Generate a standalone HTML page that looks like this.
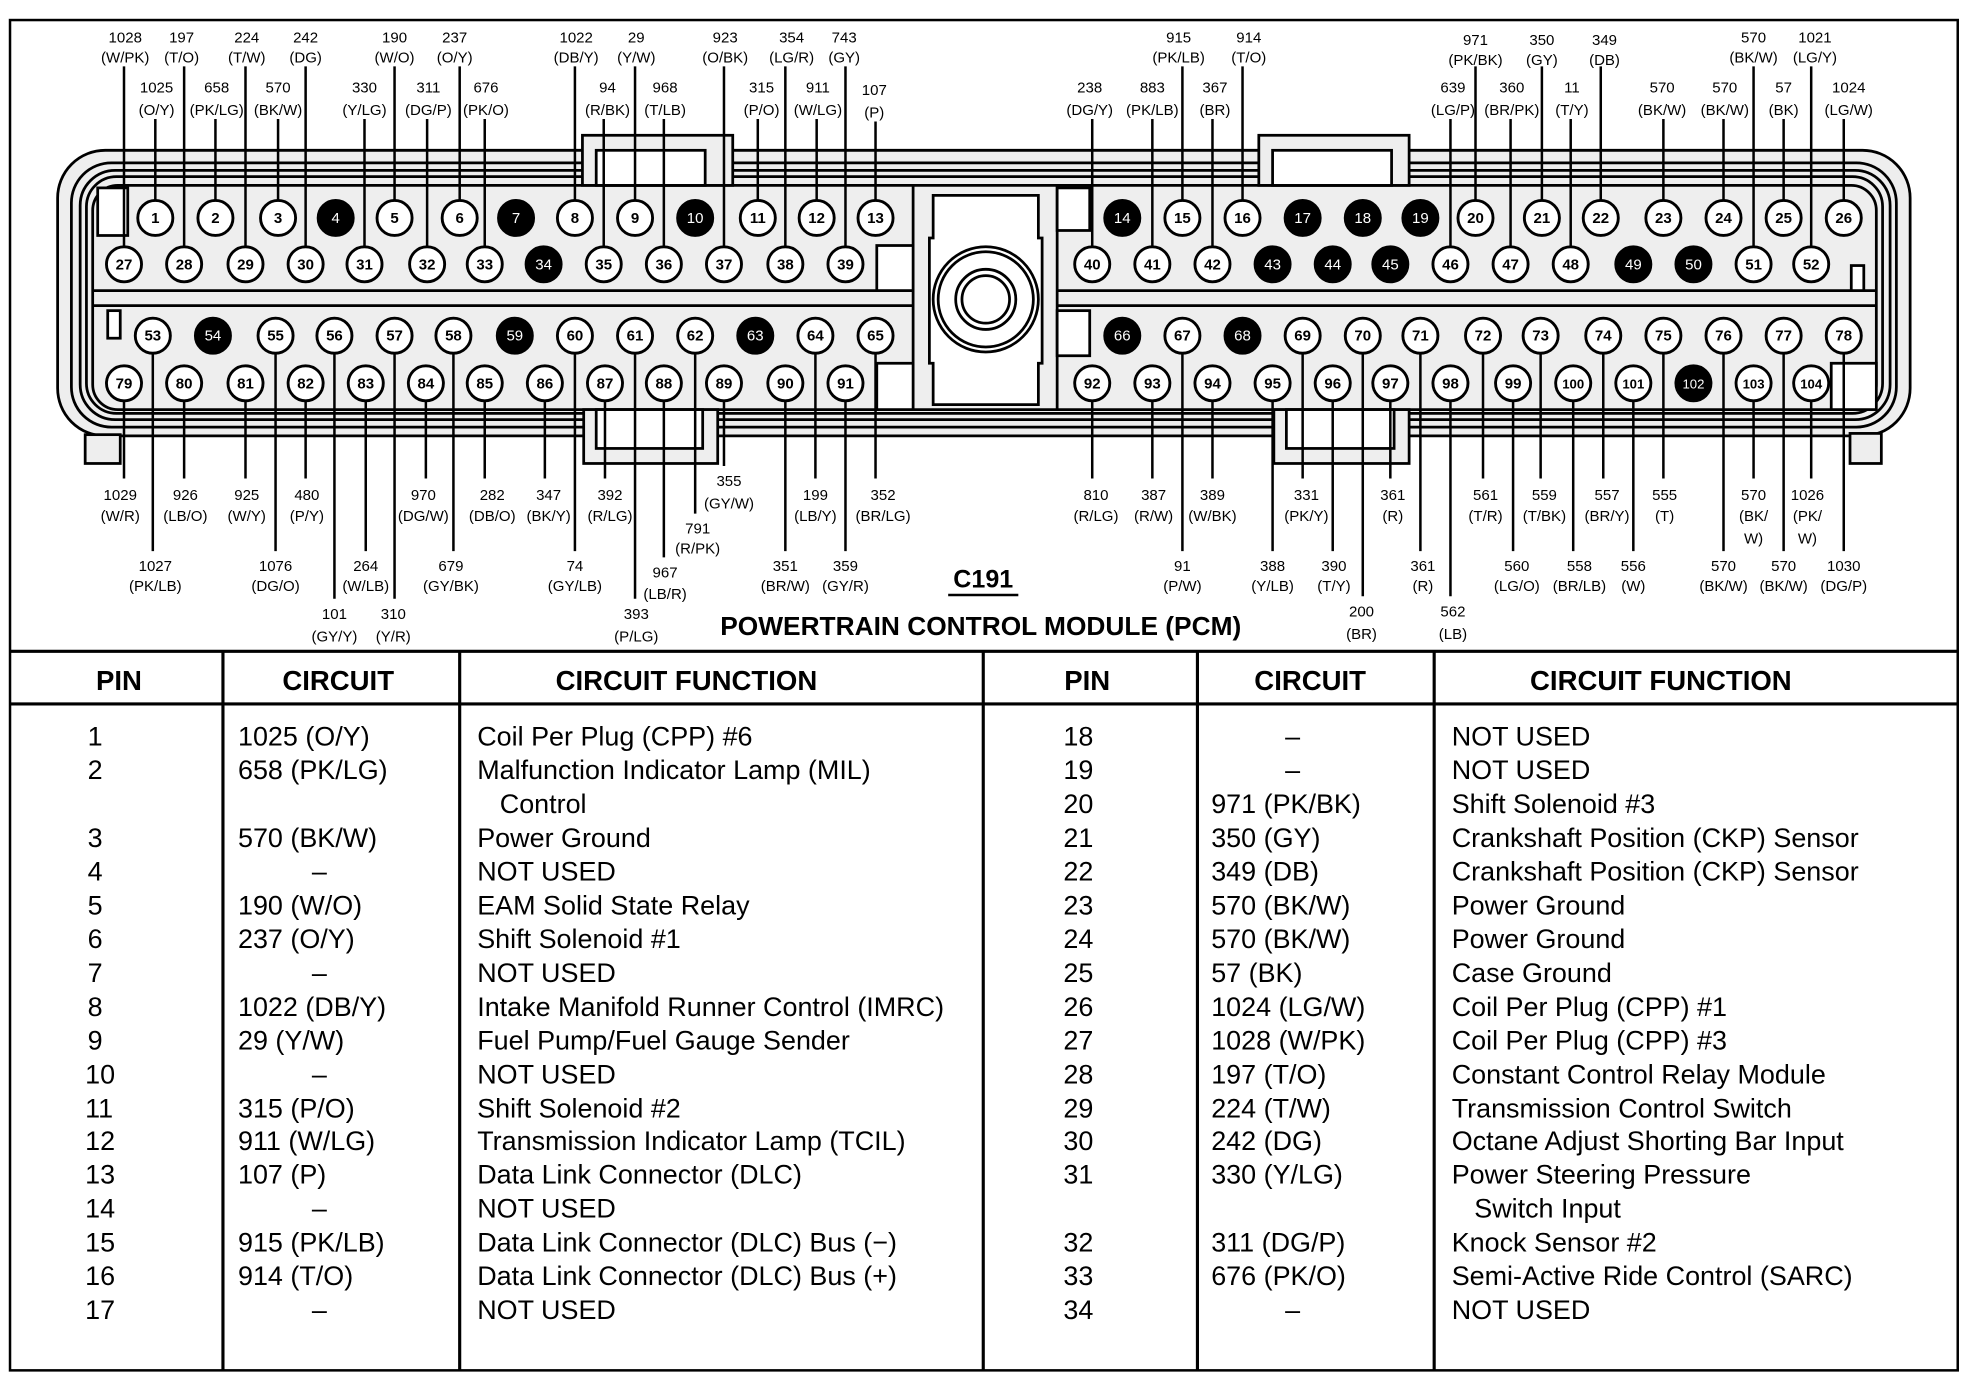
<!DOCTYPE html>
<html><head><meta charset="utf-8"><style>
html,body{margin:0;padding:0;background:#fff;}
svg{display:block;}
.l{font-family:"Liberation Sans",sans-serif;font-size:12px;text-anchor:middle;fill:#000;}
.p{font-family:"Liberation Sans",sans-serif;font-size:12px;font-weight:bold;text-anchor:middle;fill:#000;}
.pb{font-family:"Liberation Sans",sans-serif;font-size:12px;text-anchor:middle;fill:#fff;}
.t{font-family:"Liberation Sans",sans-serif;font-size:21.5px;fill:#000;}
.h{font-family:"Liberation Sans",sans-serif;font-size:22px;font-weight:bold;fill:#000;text-anchor:middle;}
</style></head><body>
<svg width="1964" height="1376" viewBox="0 0 1568 1098.5" preserveAspectRatio="none" xmlns="http://www.w3.org/2000/svg">
<rect x="8" y="16" width="1555" height="1078" fill="#fff" stroke="#000" stroke-width="2"/>
<g fill="none" stroke="#000" stroke-width="2.2">
<rect x="46" y="120" width="1479" height="228" rx="38" fill="#eeeeee"/>
<rect x="57" y="130" width="1457" height="211" rx="32"/>
<rect x="64" y="136" width="1445" height="199" rx="28"/>
<rect x="69" y="141" width="1434" height="189" rx="24"/>
<rect x="74" y="148" width="1424" height="179" rx="20"/>
<line x1="74" y1="232" x2="729" y2="232"/>
<line x1="74" y1="244" x2="729" y2="244"/>
<line x1="844" y1="232" x2="1498" y2="232"/>
<line x1="844" y1="244" x2="1498" y2="244"/>
<line x1="729" y1="148" x2="729" y2="327"/>
<line x1="844" y1="148" x2="844" y2="327"/>
<rect x="68" y="347" width="28" height="23" fill="#eee"/>
<rect x="1477" y="346" width="25" height="24" fill="#eee"/>
<rect x="465" y="108" width="120" height="40" fill="#eee"/>
<rect x="476" y="120" width="87" height="28" fill="#fff"/>
<rect x="1005" y="108" width="120" height="40" fill="#eee"/>
<rect x="1016" y="120" width="95" height="28" fill="#fff"/>
<rect x="466" y="327" width="107" height="43" fill="#eee"/>
<rect x="476" y="327" width="85" height="31" fill="#fff"/>
<rect x="1017" y="327" width="108" height="43" fill="#eee"/>
<rect x="1027" y="327" width="86" height="31" fill="#fff"/>
<path d="M745 156 H829 V190 H832 V290 H829 V323 H745 V290 H742 V190 H745 Z" fill="#fff"/>
<circle cx="787" cy="239" r="42"/><circle cx="787" cy="239" r="38"/>
<circle cx="787" cy="239" r="24"/><circle cx="787" cy="239" r="19"/>
<rect x="78" y="150" width="24" height="38" fill="#fff"/>
<rect x="86" y="248" width="10" height="22" fill="#fff"/>
<rect x="700" y="196" width="29" height="36" fill="#fff"/>
<rect x="700" y="290" width="29" height="37" fill="#fff"/>
<rect x="844" y="150" width="26" height="34" fill="#fff"/>
<rect x="844" y="248" width="26" height="36" fill="#fff"/>
<rect x="1478" y="212" width="10" height="20" fill="#fff"/>
<rect x="1462" y="290" width="36" height="37" fill="#fff"/>
</g>
<g stroke="#000" stroke-width="2">
<line x1="99" y1="53" x2="99" y2="197"/><line x1="147" y1="53" x2="147" y2="197"/><line x1="196" y1="53" x2="196" y2="197"/><line x1="244" y1="53" x2="244" y2="197"/>
<line x1="315" y1="53" x2="315" y2="160"/><line x1="367" y1="53" x2="367" y2="160"/><line x1="459" y1="53" x2="459" y2="160"/><line x1="507" y1="53" x2="507" y2="160"/>
<line x1="578" y1="53" x2="578" y2="197"/><line x1="627" y1="53" x2="627" y2="197"/><line x1="675" y1="53" x2="675" y2="197"/>
<line x1="944" y1="53" x2="944" y2="160"/><line x1="992" y1="53" x2="992" y2="160"/><line x1="1178" y1="53" x2="1178" y2="160"/><line x1="1231" y1="53" x2="1231" y2="160"/><line x1="1278" y1="53" x2="1278" y2="160"/>
<line x1="1400" y1="53" x2="1400" y2="197"/><line x1="1446" y1="53" x2="1446" y2="197"/>
<line x1="124" y1="95" x2="124" y2="160"/><line x1="172" y1="95" x2="172" y2="160"/><line x1="222" y1="95" x2="222" y2="160"/>
<line x1="291" y1="95" x2="291" y2="197"/><line x1="341" y1="95" x2="341" y2="197"/><line x1="387" y1="95" x2="387" y2="197"/>
<line x1="482" y1="95" x2="482" y2="197"/><line x1="530" y1="95" x2="530" y2="197"/>
<line x1="605" y1="95" x2="605" y2="160"/><line x1="652" y1="95" x2="652" y2="160"/><line x1="699" y1="97" x2="699" y2="160"/>
<line x1="872" y1="95" x2="872" y2="197"/><line x1="920" y1="95" x2="920" y2="197"/><line x1="968" y1="95" x2="968" y2="197"/>
<line x1="1158" y1="95" x2="1158" y2="197"/><line x1="1206" y1="95" x2="1206" y2="197"/><line x1="1254" y1="95" x2="1254" y2="197"/>
<line x1="1328" y1="95" x2="1328" y2="160"/><line x1="1376" y1="95" x2="1376" y2="160"/><line x1="1424" y1="95" x2="1424" y2="160"/><line x1="1472" y1="95" x2="1472" y2="160"/>
<line x1="99" y1="320" x2="99" y2="382"/><line x1="147" y1="320" x2="147" y2="382"/><line x1="196" y1="320" x2="196" y2="382"/><line x1="244" y1="320" x2="244" y2="382"/>
<line x1="340" y1="320" x2="340" y2="382"/><line x1="387" y1="320" x2="387" y2="382"/><line x1="435" y1="320" x2="435" y2="382"/><line x1="483" y1="320" x2="483" y2="382"/>
<line x1="578" y1="320" x2="578" y2="372"/><line x1="651" y1="282" x2="651" y2="382"/><line x1="699" y1="282" x2="699" y2="382"/>
<line x1="555" y1="282" x2="555" y2="410"/><line x1="530" y1="320" x2="530" y2="445"/><line x1="507" y1="282" x2="507" y2="478"/>
<line x1="122" y1="282" x2="122" y2="440"/><line x1="220" y1="282" x2="220" y2="440"/><line x1="292" y1="320" x2="292" y2="440"/><line x1="362" y1="282" x2="362" y2="440"/><line x1="459" y1="282" x2="459" y2="440"/>
<line x1="267" y1="282" x2="267" y2="478"/><line x1="315" y1="282" x2="315" y2="478"/>
<line x1="627" y1="320" x2="627" y2="440"/><line x1="675" y1="320" x2="675" y2="440"/>
<line x1="872" y1="320" x2="872" y2="382"/><line x1="920" y1="320" x2="920" y2="382"/><line x1="968" y1="320" x2="968" y2="382"/>
<line x1="1040" y1="282" x2="1040" y2="382"/><line x1="1110" y1="320" x2="1110" y2="382"/>
<line x1="1184" y1="282" x2="1184" y2="382"/><line x1="1230" y1="282" x2="1230" y2="382"/><line x1="1280" y1="282" x2="1280" y2="382"/><line x1="1328" y1="282" x2="1328" y2="382"/>
<line x1="1400" y1="320" x2="1400" y2="382"/><line x1="1446" y1="320" x2="1446" y2="382"/>
<line x1="944" y1="282" x2="944" y2="440"/><line x1="1016" y1="320" x2="1016" y2="440"/><line x1="1064" y1="320" x2="1064" y2="440"/><line x1="1134" y1="282" x2="1134" y2="440"/>
<line x1="1208" y1="320" x2="1208" y2="440"/><line x1="1256" y1="320" x2="1256" y2="440"/><line x1="1304" y1="320" x2="1304" y2="440"/>
<line x1="1376" y1="282" x2="1376" y2="440"/><line x1="1424" y1="282" x2="1424" y2="440"/><line x1="1472" y1="282" x2="1472" y2="440"/>
<line x1="1088" y1="282" x2="1088" y2="476"/><line x1="1158" y1="320" x2="1158" y2="476"/>
</g>
<g stroke="#000" stroke-width="2.3" fill="#fff">
<circle cx="124" cy="174" r="14"/><circle cx="172" cy="174" r="14"/><circle cx="222" cy="174" r="14"/><circle cx="268" cy="174" r="14" fill="#000"/><circle cx="315" cy="174" r="14"/><circle cx="367" cy="174" r="14"/><circle cx="412" cy="174" r="14" fill="#000"/><circle cx="459" cy="174" r="14"/><circle cx="507" cy="174" r="14"/><circle cx="555" cy="174" r="14" fill="#000"/><circle cx="605" cy="174" r="14"/><circle cx="652" cy="174" r="14"/><circle cx="699" cy="174" r="14"/>
<circle cx="99" cy="211" r="14"/><circle cx="147" cy="211" r="14"/><circle cx="196" cy="211" r="14"/><circle cx="244" cy="211" r="14"/><circle cx="291" cy="211" r="14"/><circle cx="341" cy="211" r="14"/><circle cx="387" cy="211" r="14"/><circle cx="434" cy="211" r="14" fill="#000"/><circle cx="482" cy="211" r="14"/><circle cx="530" cy="211" r="14"/><circle cx="578" cy="211" r="14"/><circle cx="627" cy="211" r="14"/><circle cx="675" cy="211" r="14"/>
<circle cx="896" cy="174" r="14" fill="#000"/><circle cx="944" cy="174" r="14"/><circle cx="992" cy="174" r="14"/><circle cx="1040" cy="174" r="14" fill="#000"/><circle cx="1088" cy="174" r="14" fill="#000"/><circle cx="1134" cy="174" r="14" fill="#000"/><circle cx="1178" cy="174" r="14"/><circle cx="1231" cy="174" r="14"/><circle cx="1278" cy="174" r="14"/><circle cx="1328" cy="174" r="14"/><circle cx="1376" cy="174" r="14"/><circle cx="1424" cy="174" r="14"/><circle cx="1472" cy="174" r="14"/>
<circle cx="872" cy="211" r="14"/><circle cx="920" cy="211" r="14"/><circle cx="968" cy="211" r="14"/><circle cx="1016" cy="211" r="14" fill="#000"/><circle cx="1064" cy="211" r="14" fill="#000"/><circle cx="1110" cy="211" r="14" fill="#000"/><circle cx="1158" cy="211" r="14"/><circle cx="1206" cy="211" r="14"/><circle cx="1254" cy="211" r="14"/><circle cx="1304" cy="211" r="14" fill="#000"/><circle cx="1352" cy="211" r="14" fill="#000"/><circle cx="1400" cy="211" r="14"/><circle cx="1446" cy="211" r="14"/>
<circle cx="122" cy="268" r="14"/><circle cx="170" cy="268" r="14" fill="#000"/><circle cx="220" cy="268" r="14"/><circle cx="267" cy="268" r="14"/><circle cx="315" cy="268" r="14"/><circle cx="362" cy="268" r="14"/><circle cx="411" cy="268" r="14" fill="#000"/><circle cx="459" cy="268" r="14"/><circle cx="507" cy="268" r="14"/><circle cx="555" cy="268" r="14"/><circle cx="603" cy="268" r="14" fill="#000"/><circle cx="651" cy="268" r="14"/><circle cx="699" cy="268" r="14"/>
<circle cx="99" cy="306" r="14"/><circle cx="147" cy="306" r="14"/><circle cx="196" cy="306" r="14"/><circle cx="244" cy="306" r="14"/><circle cx="292" cy="306" r="14"/><circle cx="340" cy="306" r="14"/><circle cx="387" cy="306" r="14"/><circle cx="435" cy="306" r="14"/><circle cx="483" cy="306" r="14"/><circle cx="530" cy="306" r="14"/><circle cx="578" cy="306" r="14"/><circle cx="627" cy="306" r="14"/><circle cx="675" cy="306" r="14"/>
<circle cx="896" cy="268" r="14" fill="#000"/><circle cx="944" cy="268" r="14"/><circle cx="992" cy="268" r="14" fill="#000"/><circle cx="1040" cy="268" r="14"/><circle cx="1088" cy="268" r="14"/><circle cx="1134" cy="268" r="14"/><circle cx="1184" cy="268" r="14"/><circle cx="1230" cy="268" r="14"/><circle cx="1280" cy="268" r="14"/><circle cx="1328" cy="268" r="14"/><circle cx="1376" cy="268" r="14"/><circle cx="1424" cy="268" r="14"/><circle cx="1472" cy="268" r="14"/>
<circle cx="872" cy="306" r="14"/><circle cx="920" cy="306" r="14"/><circle cx="968" cy="306" r="14"/><circle cx="1016" cy="306" r="14"/><circle cx="1064" cy="306" r="14"/><circle cx="1110" cy="306" r="14"/><circle cx="1158" cy="306" r="14"/><circle cx="1208" cy="306" r="14"/><circle cx="1256" cy="306" r="14"/><circle cx="1304" cy="306" r="14"/><circle cx="1352" cy="306" r="14" fill="#000"/><circle cx="1400" cy="306" r="14"/><circle cx="1446" cy="306" r="14"/>
</g>
<g class="p">
<text x="124" y="178">1</text><text x="172" y="178">2</text><text x="222" y="178">3</text><text x="315" y="178">5</text><text x="367" y="178">6</text><text x="459" y="178">8</text><text x="507" y="178">9</text><text x="605" y="178">11</text><text x="652" y="178">12</text><text x="699" y="178">13</text>
<text x="99" y="215">27</text><text x="147" y="215">28</text><text x="196" y="215">29</text><text x="244" y="215">30</text><text x="291" y="215">31</text><text x="341" y="215">32</text><text x="387" y="215">33</text><text x="482" y="215">35</text><text x="530" y="215">36</text><text x="578" y="215">37</text><text x="627" y="215">38</text><text x="675" y="215">39</text>
<text x="944" y="178">15</text><text x="992" y="178">16</text><text x="1178" y="178">20</text><text x="1231" y="178">21</text><text x="1278" y="178">22</text><text x="1328" y="178">23</text><text x="1376" y="178">24</text><text x="1424" y="178">25</text><text x="1472" y="178">26</text>
<text x="872" y="215">40</text><text x="920" y="215">41</text><text x="968" y="215">42</text><text x="1158" y="215">46</text><text x="1206" y="215">47</text><text x="1254" y="215">48</text><text x="1400" y="215">51</text><text x="1446" y="215">52</text>
<text x="122" y="272">53</text><text x="220" y="272">55</text><text x="267" y="272">56</text><text x="315" y="272">57</text><text x="362" y="272">58</text><text x="459" y="272">60</text><text x="507" y="272">61</text><text x="555" y="272">62</text><text x="651" y="272">64</text><text x="699" y="272">65</text>
<text x="99" y="310">79</text><text x="147" y="310">80</text><text x="196" y="310">81</text><text x="244" y="310">82</text><text x="292" y="310">83</text><text x="340" y="310">84</text><text x="387" y="310">85</text><text x="435" y="310">86</text><text x="483" y="310">87</text><text x="530" y="310">88</text><text x="578" y="310">89</text><text x="627" y="310">90</text><text x="675" y="310">91</text>
<text x="944" y="272">67</text><text x="1040" y="272">69</text><text x="1088" y="272">70</text><text x="1134" y="272">71</text><text x="1184" y="272">72</text><text x="1230" y="272">73</text><text x="1280" y="272">74</text><text x="1328" y="272">75</text><text x="1376" y="272">76</text><text x="1424" y="272">77</text><text x="1472" y="272">78</text>
<text x="872" y="310">92</text><text x="920" y="310">93</text><text x="968" y="310">94</text><text x="1016" y="310">95</text><text x="1064" y="310">96</text><text x="1110" y="310">97</text><text x="1158" y="310">98</text><text x="1208" y="310">99</text><text x="1256" y="310" font-size="10.5">100</text><text x="1304" y="310" font-size="10.5">101</text><text x="1400" y="310" font-size="10.5">103</text><text x="1446" y="310" font-size="10.5">104</text>
</g>
<g class="pb">
<text x="268" y="178">4</text><text x="412" y="178">7</text><text x="555" y="178">10</text><text x="434" y="215">34</text>
<text x="896" y="178">14</text><text x="1040" y="178">17</text><text x="1088" y="178">18</text><text x="1134" y="178">19</text>
<text x="1016" y="215">43</text><text x="1064" y="215">44</text><text x="1110" y="215">45</text><text x="1304" y="215">49</text><text x="1352" y="215">50</text>
<text x="170" y="272">54</text><text x="411" y="272">59</text><text x="603" y="272">63</text><text x="896" y="272">66</text><text x="992" y="272">68</text><text x="1352" y="310" font-size="10.5">102</text>
</g>
<g class="l">
<text x="100" y="34">1028</text><text x="100" y="50">(W/PK)</text>
<text x="145" y="34">197</text><text x="145" y="50">(T/O)</text>
<text x="197" y="34">224</text><text x="197" y="50">(T/W)</text>
<text x="244" y="34">242</text><text x="244" y="50">(DG)</text>
<text x="315" y="34">190</text><text x="315" y="50">(W/O)</text>
<text x="363" y="34">237</text><text x="363" y="50">(O/Y)</text>
<text x="460" y="34">1022</text><text x="460" y="50">(DB/Y)</text>
<text x="508" y="34">29</text><text x="508" y="50">(Y/W)</text>
<text x="579" y="34">923</text><text x="579" y="50">(O/BK)</text>
<text x="632" y="34">354</text><text x="632" y="50">(LG/R)</text>
<text x="674" y="34">743</text><text x="674" y="50">(GY)</text>
<text x="941" y="34">915</text><text x="941" y="50">(PK/LB)</text>
<text x="997" y="34">914</text><text x="997" y="50">(T/O)</text>
<text x="1178" y="36">971</text><text x="1178" y="52">(PK/BK)</text>
<text x="1231" y="36">350</text><text x="1231" y="52">(GY)</text>
<text x="1281" y="36">349</text><text x="1281" y="52">(DB)</text>
<text x="1400" y="34">570</text><text x="1400" y="50">(BK/W)</text>
<text x="1449" y="34">1021</text><text x="1449" y="50">(LG/Y)</text>
<text x="125" y="74">1025</text><text x="125" y="92">(O/Y)</text>
<text x="173" y="74">658</text><text x="173" y="92">(PK/LG)</text>
<text x="222" y="74">570</text><text x="222" y="92">(BK/W)</text>
<text x="291" y="74">330</text><text x="291" y="92">(Y/LG)</text>
<text x="342" y="74">311</text><text x="342" y="92">(DG/P)</text>
<text x="388" y="74">676</text><text x="388" y="92">(PK/O)</text>
<text x="485" y="74">94</text><text x="485" y="92">(R/BK)</text>
<text x="531" y="74">968</text><text x="531" y="92">(T/LB)</text>
<text x="608" y="74">315</text><text x="608" y="92">(P/O)</text>
<text x="653" y="74">911</text><text x="653" y="92">(W/LG)</text>
<text x="698" y="76">107</text><text x="698" y="94">(P)</text>
<text x="870" y="74">238</text><text x="870" y="92">(DG/Y)</text>
<text x="920" y="74">883</text><text x="920" y="92">(PK/LB)</text>
<text x="970" y="74">367</text><text x="970" y="92">(BR)</text>
<text x="1160" y="74">639</text><text x="1160" y="92">(LG/P)</text>
<text x="1207" y="74">360</text><text x="1207" y="92">(BR/PK)</text>
<text x="1255" y="74">11</text><text x="1255" y="92">(T/Y)</text>
<text x="1327" y="74">570</text><text x="1327" y="92">(BK/W)</text>
<text x="1377" y="74">570</text><text x="1377" y="92">(BK/W)</text>
<text x="1424" y="74">57</text><text x="1424" y="92">(BK)</text>
<text x="1476" y="74">1024</text><text x="1476" y="92">(LG/W)</text>
<text x="96" y="399">1029</text><text x="96" y="416">(W/R)</text>
<text x="148" y="399">926</text><text x="148" y="416">(LB/O)</text>
<text x="197" y="399">925</text><text x="197" y="416">(W/Y)</text>
<text x="245" y="399">480</text><text x="245" y="416">(P/Y)</text>
<text x="338" y="399">970</text><text x="338" y="416">(DG/W)</text>
<text x="393" y="399">282</text><text x="393" y="416">(DB/O)</text>
<text x="438" y="399">347</text><text x="438" y="416">(BK/Y)</text>
<text x="487" y="399">392</text><text x="487" y="416">(R/LG)</text>
<text x="582" y="388">355</text><text x="582" y="406">(GY/W)</text>
<text x="651" y="399">199</text><text x="651" y="416">(LB/Y)</text>
<text x="705" y="399">352</text><text x="705" y="416">(BR/LG)</text>
<text x="557" y="426">791</text><text x="557" y="442">(R/PK)</text>
<text x="531" y="461">967</text><text x="531" y="478">(LB/R)</text>
<text x="508" y="494">393</text><text x="508" y="512">(P/LG)</text>
<text x="124" y="456">1027</text><text x="124" y="472">(PK/LB)</text>
<text x="220" y="456">1076</text><text x="220" y="472">(DG/O)</text>
<text x="292" y="456">264</text><text x="292" y="472">(W/LB)</text>
<text x="360" y="456">679</text><text x="360" y="472">(GY/BK)</text>
<text x="459" y="456">74</text><text x="459" y="472">(GY/LB)</text>
<text x="267" y="494">101</text><text x="267" y="512">(GY/Y)</text>
<text x="314" y="494">310</text><text x="314" y="512">(Y/R)</text>
<text x="627" y="456">351</text><text x="627" y="472">(BR/W)</text>
<text x="675" y="456">359</text><text x="675" y="472">(GY/R)</text>
<text x="875" y="399">810</text><text x="875" y="416">(R/LG)</text>
<text x="921" y="399">387</text><text x="921" y="416">(R/W)</text>
<text x="968" y="399">389</text><text x="968" y="416">(W/BK)</text>
<text x="1043" y="399">331</text><text x="1043" y="416">(PK/Y)</text>
<text x="1112" y="399">361</text><text x="1112" y="416">(R)</text>
<text x="1186" y="399">561</text><text x="1186" y="416">(T/R)</text>
<text x="1233" y="399">559</text><text x="1233" y="416">(T/BK)</text>
<text x="1283" y="399">557</text><text x="1283" y="416">(BR/Y)</text>
<text x="1329" y="399">555</text><text x="1329" y="416">(T)</text>
<text x="1400" y="399">570</text><text x="1400" y="416">(BK/</text><text x="1400" y="434">W)</text>
<text x="1443" y="399">1026</text><text x="1443" y="416">(PK/</text><text x="1443" y="434">W)</text>
<text x="944" y="456">91</text><text x="944" y="472">(P/W)</text>
<text x="1016" y="456">388</text><text x="1016" y="472">(Y/LB)</text>
<text x="1065" y="456">390</text><text x="1065" y="472">(T/Y)</text>
<text x="1136" y="456">361</text><text x="1136" y="472">(R)</text>
<text x="1211" y="456">560</text><text x="1211" y="472">(LG/O)</text>
<text x="1261" y="456">558</text><text x="1261" y="472">(BR/LB)</text>
<text x="1304" y="456">556</text><text x="1304" y="472">(W)</text>
<text x="1376" y="456">570</text><text x="1376" y="472">(BK/W)</text>
<text x="1424" y="456">570</text><text x="1424" y="472">(BK/W)</text>
<text x="1472" y="456">1030</text><text x="1472" y="472">(DG/P)</text>
<text x="1087" y="492">200</text><text x="1087" y="510">(BR)</text>
<text x="1160" y="492">562</text><text x="1160" y="510">(LB)</text>
</g>
<text x="785" y="469" font-family="Liberation Sans,sans-serif" font-size="20" font-weight="bold" text-anchor="middle">C191</text>
<line x1="757" y1="475" x2="813" y2="475" stroke="#000" stroke-width="2"/>
<text x="783" y="507" font-family="Liberation Sans,sans-serif" font-size="21" font-weight="bold" text-anchor="middle">POWERTRAIN CONTROL MODULE (PCM)</text>
<g stroke="#000" stroke-width="2.5">
<line x1="8" y1="520" x2="1563" y2="520"/>
<line x1="8" y1="562" x2="1563" y2="562"/>
<line x1="178" y1="520" x2="178" y2="1094"/>
<line x1="367" y1="520" x2="367" y2="1094"/>
<line x1="785" y1="520" x2="785" y2="1094"/>
<line x1="956" y1="520" x2="956" y2="1094"/>
<line x1="1145" y1="520" x2="1145" y2="1094"/>
</g>
<g class="h">
<text x="95" y="551">PIN</text><text x="270" y="551">CIRCUIT</text><text x="548" y="551">CIRCUIT FUNCTION</text>
<text x="868" y="551">PIN</text><text x="1046" y="551">CIRCUIT</text><text x="1326" y="551">CIRCUIT FUNCTION</text>
</g>
<g class="t">
<text x="70" y="595">1</text><text x="190" y="595">1025 (O/Y)</text><text x="381" y="595">Coil Per Plug (CPP) #6</text>
<text x="70" y="622">2</text><text x="190" y="622">658 (PK/LG)</text><text x="381" y="622">Malfunction Indicator Lamp (MIL)</text>
<text x="399" y="649">Control</text>
<text x="70" y="676">3</text><text x="190" y="676">570 (BK/W)</text><text x="381" y="676">Power Ground</text>
<text x="70" y="703">4</text><text x="249" y="703">–</text><text x="381" y="703">NOT USED</text>
<text x="70" y="730">5</text><text x="190" y="730">190 (W/O)</text><text x="381" y="730">EAM Solid State Relay</text>
<text x="70" y="757">6</text><text x="190" y="757">237 (O/Y)</text><text x="381" y="757">Shift Solenoid #1</text>
<text x="70" y="784">7</text><text x="249" y="784">–</text><text x="381" y="784">NOT USED</text>
<text x="70" y="811">8</text><text x="190" y="811">1022 (DB/Y)</text><text x="381" y="811">Intake Manifold Runner Control (IMRC)</text>
<text x="70" y="838">9</text><text x="190" y="838">29 (Y/W)</text><text x="381" y="838">Fuel Pump/Fuel Gauge Sender</text>
<text x="68" y="865">10</text><text x="249" y="865">–</text><text x="381" y="865">NOT USED</text>
<text x="68" y="892">11</text><text x="190" y="892">315 (P/O)</text><text x="381" y="892">Shift Solenoid #2</text>
<text x="68" y="918">12</text><text x="190" y="918">911 (W/LG)</text><text x="381" y="918">Transmission Indicator Lamp (TCIL)</text>
<text x="68" y="945">13</text><text x="190" y="945">107 (P)</text><text x="381" y="945">Data Link Connector (DLC)</text>
<text x="68" y="972">14</text><text x="249" y="972">–</text><text x="381" y="972">NOT USED</text>
<text x="68" y="999">15</text><text x="190" y="999">915 (PK/LB)</text><text x="381" y="999">Data Link Connector (DLC) Bus (−)</text>
<text x="68" y="1026">16</text><text x="190" y="1026">914 (T/O)</text><text x="381" y="1026">Data Link Connector (DLC) Bus (+)</text>
<text x="68" y="1053">17</text><text x="249" y="1053">–</text><text x="381" y="1053">NOT USED</text>
<text x="849" y="595">18</text><text x="1026" y="595">–</text><text x="1159" y="595">NOT USED</text>
<text x="849" y="622">19</text><text x="1026" y="622">–</text><text x="1159" y="622">NOT USED</text>
<text x="849" y="649">20</text><text x="967" y="649">971 (PK/BK)</text><text x="1159" y="649">Shift Solenoid #3</text>
<text x="849" y="676">21</text><text x="967" y="676">350 (GY)</text><text x="1159" y="676">Crankshaft Position (CKP) Sensor</text>
<text x="849" y="703">22</text><text x="967" y="703">349 (DB)</text><text x="1159" y="703">Crankshaft Position (CKP) Sensor</text>
<text x="849" y="730">23</text><text x="967" y="730">570 (BK/W)</text><text x="1159" y="730">Power Ground</text>
<text x="849" y="757">24</text><text x="967" y="757">570 (BK/W)</text><text x="1159" y="757">Power Ground</text>
<text x="849" y="784">25</text><text x="967" y="784">57 (BK)</text><text x="1159" y="784">Case Ground</text>
<text x="849" y="811">26</text><text x="967" y="811">1024 (LG/W)</text><text x="1159" y="811">Coil Per Plug (CPP) #1</text>
<text x="849" y="838">27</text><text x="967" y="838">1028 (W/PK)</text><text x="1159" y="838">Coil Per Plug (CPP) #3</text>
<text x="849" y="865">28</text><text x="967" y="865">197 (T/O)</text><text x="1159" y="865">Constant Control Relay Module</text>
<text x="849" y="892">29</text><text x="967" y="892">224 (T/W)</text><text x="1159" y="892">Transmission Control Switch</text>
<text x="849" y="918">30</text><text x="967" y="918">242 (DG)</text><text x="1159" y="918">Octane Adjust Shorting Bar Input</text>
<text x="849" y="945">31</text><text x="967" y="945">330 (Y/LG)</text><text x="1159" y="945">Power Steering Pressure</text>
<text x="1177" y="972">Switch Input</text>
<text x="849" y="999">32</text><text x="967" y="999">311 (DG/P)</text><text x="1159" y="999">Knock Sensor #2</text>
<text x="849" y="1026">33</text><text x="967" y="1026">676 (PK/O)</text><text x="1159" y="1026">Semi-Active Ride Control (SARC)</text>
<text x="849" y="1053">34</text><text x="1026" y="1053">–</text><text x="1159" y="1053">NOT USED</text>
</g>
</svg>
</body></html>
